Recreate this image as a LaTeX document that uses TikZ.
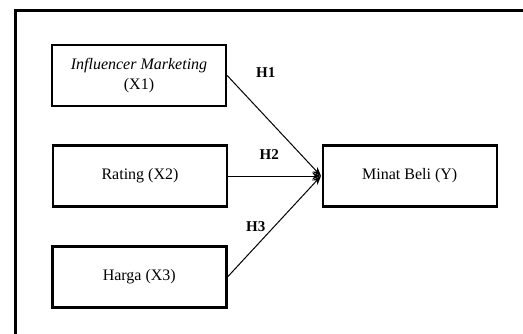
\documentclass[tikz,border=0pt]{standalone}
\usepackage{fontspec}
\setmainfont{Liberation Serif}
\usetikzlibrary{arrows.meta}
\begin{document}
\begin{tikzpicture}[x=1pt,y=-1pt,
  varbox/.style={draw=black, line width=2.4pt, minimum width=174pt, minimum height=61pt, inner sep=0pt, align=center, font=\fontsize{16}{20.5}\selectfont},
  hyp/.style={font=\fontsize{15}{18}\selectfont\bfseries, inner sep=0pt},
  link/.style={line width=1pt, -{Stealth[length=9pt,width=7pt]}}]
\useasboundingbox (0,0) rectangle (523,333);
\fill[white] (0,0) rectangle (523,333);
\begin{scope}
\clip (0,0) rectangle (523,333);
\draw[line width=3pt] (15.3,345) -- (15.3,10.8) -- (540,10.8);
\end{scope}
\node[varbox] (x1) at (139,75.5) {\textit{Influencer Marketing}\\(X1)};
\node[varbox] (x2) at (140,176) {Rating (X2)};
\node[varbox] (x3) at (139.3,277) {Harga (X3)};
\node[varbox] (y) at (409.7,176) {Minat Beli (Y)};
\coordinate (tip) at (321,176);
\draw[link] (x1.east) -- (tip);
\draw[link] (x2.east) -- (tip);
\draw[link] (x3.east) -- (tip);
\node[hyp] (h1) at (265.7,72.7) {H1};
\node[hyp] (h2) at (269.3,155) {H2};
\node[hyp] (h3) at (255.7,226.7) {H3};
\end{tikzpicture}
\end{document}
